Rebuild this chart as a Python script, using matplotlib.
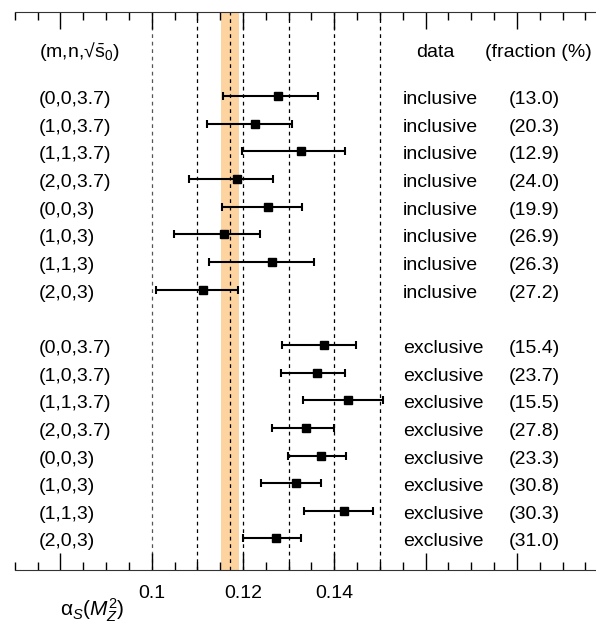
import matplotlib
matplotlib.use("Agg")
import matplotlib.pyplot as plt
from matplotlib.ticker import FixedLocator, FixedFormatter

plt.rcParams['font.family'] = ['Liberation Sans', 'DejaVu Sans']
plt.rcParams['mathtext.fontset'] = 'custom'
plt.rcParams['mathtext.rm'] = 'Liberation Sans'
plt.rcParams['mathtext.it'] = 'Liberation Sans:italic'
plt.rcParams['mathtext.sf'] = 'Liberation Sans'

labels = ["(0,0,3.7)", "(1,0,3.7)", "(1,1,3.7)", "(2,0,3.7)",
          "(0,0,3)", "(1,0,3)", "(1,1,3)", "(2,0,3)"]

incl_center = [0.1276, 0.1227, 0.1328, 0.1187, 0.1255, 0.1158, 0.1263, 0.1113]
incl_low = [0.1157, 0.1122, 0.1198, 0.1082, 0.1154, 0.1049, 0.1125, 0.1009]
incl_high = [0.1364, 0.1307, 0.1423, 0.1265, 0.1329, 0.1237, 0.1355, 0.1190]
incl_frac = ["(13.0)", "(20.3)", "(12.9)", "(24.0)", "(19.9)", "(26.9)", "(26.3)", "(27.2)"]

excl_center = [0.1377, 0.1362, 0.1431, 0.1339, 0.1370, 0.1315, 0.1421, 0.1272]
excl_low = [0.1285, 0.1284, 0.1331, 0.1263, 0.1299, 0.1240, 0.1334, 0.1201]
excl_high = [0.1447, 0.1423, 0.1506, 0.1399, 0.1426, 0.1370, 0.1484, 0.1327]
excl_frac = ["(15.4)", "(23.7)", "(15.5)", "(27.8)", "(23.3)", "(30.8)", "(30.3)", "(31.0)"]

world_avg = 0.1172
world_err = 0.002
ref_lines = [0.10, 0.11, 0.12, 0.13, 0.14, 0.15]

major_ticks = [0.08, 0.10, 0.12, 0.14, 0.16, 0.18, 0.20]
major_labels = ["", "0.1", "0.12", "0.14", "", "", ""]
minor_ticks = [0.07 + 0.005 * i for i in range(27)]

fig = plt.figure(figsize=(5.96, 6.24), dpi=100)
ax = fig.add_axes([14.7 / 596, 54 / 624, (608.3 - 14.7) / 596, 558.3 / 624])

ax.axvspan(world_avg - world_err, world_avg + world_err, color='#fdd3a0', lw=0, zorder=0)
ax.axvline(world_avg, color='black', lw=0.9, ls=(0, (3, 3)), zorder=1)
for x in ref_lines:
    c = '#555555' if x == 0.10 else 'black'
    ax.axvline(x, color=c, lw=0.9, ls=(0, (3, 3)), zorder=1)

rows_incl = list(range(8))
rows_excl = [r + 9 for r in range(8)]

for rows, cen, lo, hi, kind, frac in [
        (rows_incl, incl_center, incl_low, incl_high, "inclusive", incl_frac),
        (rows_excl, excl_center, excl_low, excl_high, "exclusive", excl_frac)]:
    xerr = [[c - l for c, l in zip(cen, lo)], [h - c for c, h in zip(cen, hi)]]
    ax.errorbar(cen, rows, xerr=xerr, fmt='s', color='black', ms=6,
                elinewidth=1.5, capsize=3, capthick=1.5, zorder=3)
    for r, lab, fr in zip(rows, labels, frac):
        ax.text(0.0753, r + 0.29, lab, fontsize=14, va='baseline', ha='left')
        ax.text(0.155, r + 0.29, kind, fontsize=14, va='baseline', ha='left')
        ax.text(0.1781, r + 0.29, fr, fontsize=14, va='baseline', ha='left')

# header row (the right one is cut at the figure edge in the original)
ax.text(0.0753, -1.42, '(m,n,\u221a$\\bar{\\mathrm{s}}_0$)', fontsize=14, va='baseline', ha='left')
ax.text(0.1579, -1.42, "data", fontsize=14, va='baseline', ha='left')
ax.text(0.1730, -1.42, "(fraction (%)", fontsize=14, va='baseline', ha='left')

ax.set_xlim(0.07, 0.20)
ax.set_ylim(17.14, -3.05)

ax.spines['left'].set_visible(False)
ax.spines['right'].set_visible(False)
ax.spines['top'].set_color('#333333')
ax.spines['bottom'].set_color('#333333')
ax.set_yticks([])

ax.xaxis.set_major_locator(FixedLocator(major_ticks))
ax.xaxis.set_major_formatter(FixedFormatter(major_labels))
ax.xaxis.set_minor_locator(FixedLocator(minor_ticks))
ax.tick_params(axis='x', which='both', direction='in', top=True, bottom=True, width=1.0,
               labelsize=14, pad=11)
ax.tick_params(axis='x', which='major', length=12.5)
ax.tick_params(axis='x', which='minor', length=6)

fig.text(60 / 596, 8 / 624, r'$\mathrm{\alpha}_S(M_Z^2)$', fontsize=15, va='baseline', ha='left')

fig.savefig("out.png", dpi=100)
